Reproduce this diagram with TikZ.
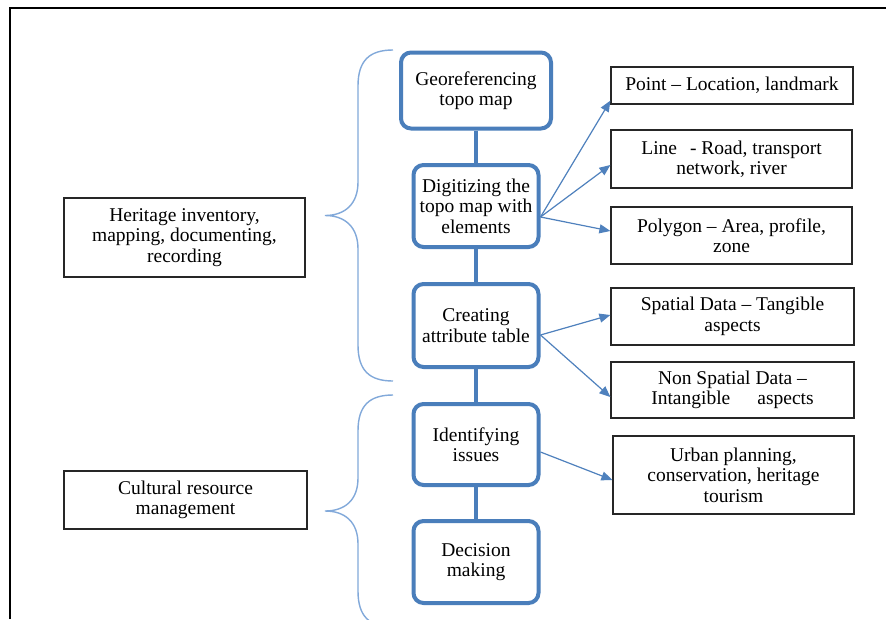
\documentclass[tikz,border=0pt]{standalone}
\usepackage{fontspec}
\setmainfont{Liberation Serif}
\usetikzlibrary{arrows.meta}
\definecolor{stepblue}{HTML}{4A7EBB}
\definecolor{arrowblue}{HTML}{4F81BD}
\definecolor{braceblue}{HTML}{82A9DA}
\begin{document}
\begin{tikzpicture}[x=1pt,y=-1pt,
  every node/.style={font=\fontsize{19.5}{20.5}\selectfont, align=center, inner sep=0pt},
  stepbox/.style={draw=stepblue, line width=4pt, rounded corners=10pt, minimum width=125pt},
  infobox/.style={draw=black!85, line width=1.2pt},
  flow/.style={draw=arrowblue, line width=1.2pt, -{Triangle[length=11pt,width=9pt]}},
  brace/.style={draw=braceblue, line width=1.4pt},
  link/.style={draw=stepblue, line width=4pt}]
\useasboundingbox (0,0) rectangle (886,619);
\fill[white] (0,0) rectangle (886,619);

% outer frame (top and left edges)
\draw[line width=2pt] (10,619) -- (10,8) -- (886,8);

% process steps
\node[stepbox, minimum width=150pt, minimum height=76pt] (geo) at (476,90.5) {Georeferencing\\topo map};
\node[stepbox, minimum height=82pt] (dig) at (476,206) {Digitizing the\\topo map with\\elements};
\node[stepbox, minimum height=83pt] (cre) at (476,325.5) {Creating\\attribute table};
\node[stepbox, minimum height=81pt] (ide) at (476,444.5) {Identifying\\issues};
\node[stepbox, minimum height=82pt] (dec) at (476,562) {Decision\\making};

\draw[link] (geo) -- (dig);
\draw[link] (dig) -- (cre);
\draw[link] (cre) -- (ide);
\draw[link] (ide) -- (dec);

% categories on the left
\node[infobox, minimum width=241pt, minimum height=79pt] (her) at (184.5,237.5) {Heritage inventory,\\mapping, documenting,\\recording};
\node[infobox, minimum width=243pt, minimum height=58pt] (cul) at (185.5,500) {Cultural resource\\management};

% outputs on the right
\node[infobox, minimum width=242pt, minimum height=37pt] (pt) at (732,85.5) {Point -- Location, landmark};
\node[infobox, minimum width=241pt, minimum height=58pt] (ln) at (731.5,159) {Line\hspace{13pt}- Road, transport\\network, river};
\node[infobox, minimum width=241pt, minimum height=57pt] (pg) at (731.5,235.5) {Polygon -- Area, profile,\\zone};
\node[infobox, minimum width=243pt, minimum height=57pt] (sp) at (732.5,316.5) {Spatial Data -- Tangible\\aspects};
\node[infobox, minimum width=243pt, minimum height=56pt] (ns) at (732.5,390) {Non Spatial Data --\\Intangible\hspace{27pt}aspects};
\node[infobox, minimum width=241pt, minimum height=78pt] (ur) at (733.5,475) {Urban planning,\\conservation, heritage\\tourism};

% arrows
\draw[flow] ([yshift=-11pt]dig.east) -- ([yshift=4pt]pt.south west);
\draw[flow] ([yshift=-11pt]dig.east) -- ([yshift=-6pt]ln.west);
\draw[flow] ([yshift=-11pt]dig.east) -- ([yshift=4.5pt]pg.west);
\draw[flow] ([yshift=-9.5pt]cre.east) -- ([yshift=1.5pt]sp.west);
\draw[flow] ([yshift=-9.5pt]cre.east) -- ([yshift=-7pt]ns.west);
\draw[flow] ([yshift=-7.5pt]ide.east) -- ([yshift=-5pt]ur.west);

% curly braces
\begin{scope}
\clip (0,0) rectangle (886,619);
\draw[brace] (393,50) .. controls (370,50) and (358,60) .. (358,86) -- (358,182)
  .. controls (358,204) and (345,215.5) .. (325,215.5)
  .. controls (345,215.5) and (358,227) .. (358,249) -- (358,345)
  .. controls (358,371) and (370,381) .. (393,381);
\draw[brace] (393,395) .. controls (370,395) and (358,405) .. (358,431) -- (358,478)
  .. controls (358,500) and (345,511) .. (325,511)
  .. controls (345,511) and (358,522) .. (358,544) -- (358,591)
  .. controls (358,617) and (370,627) .. (393,627);
\end{scope}
\end{tikzpicture}
\end{document}
